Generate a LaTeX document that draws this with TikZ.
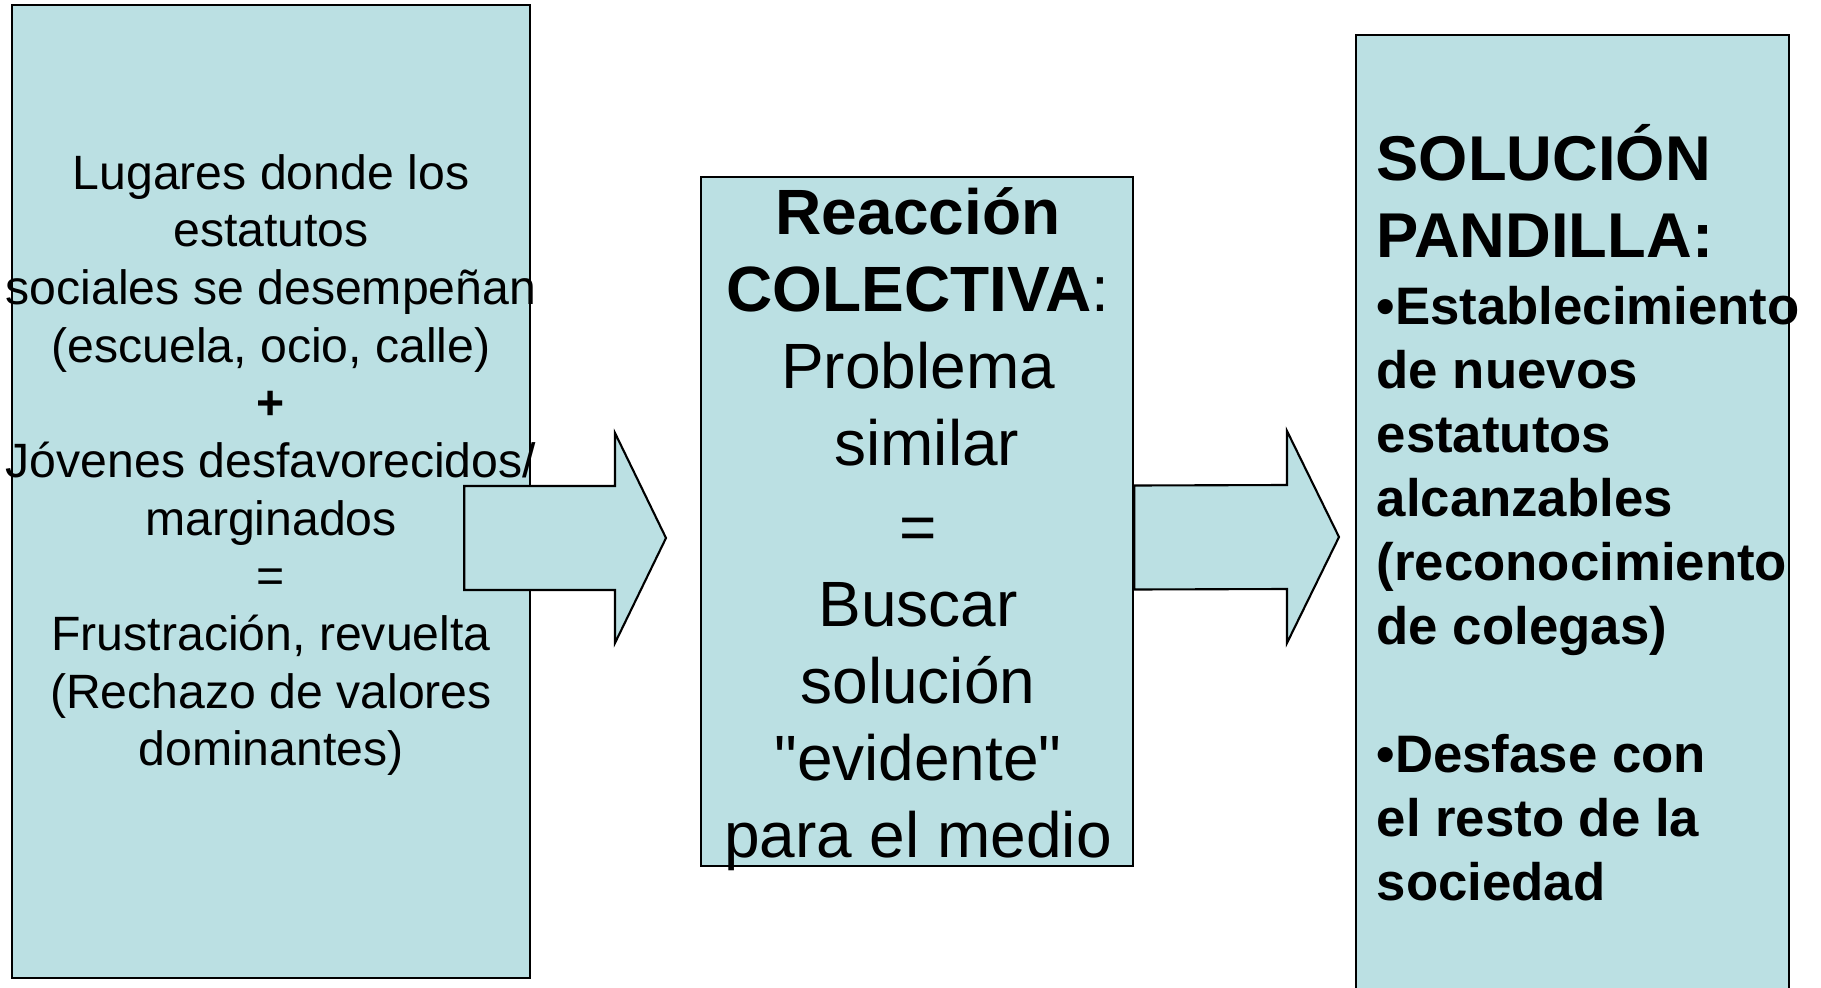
\documentclass[tikz,border=0pt]{standalone}
\usepackage{fontspec}
\setmainfont{Liberation Sans}
\newfontfamily\straightquote{Liberation Sans}
\usetikzlibrary{calc,positioning}
\definecolor{boxfill}{RGB}{187,224,227}
\newcommand{\sq}{{\straightquote\symbol{34}}}
\tikzset{
  panel/.style={draw=black, fill=boxfill, line width=0.6pt, inner sep=0pt},
  blockarrow/.style={draw=black, fill=boxfill, line width=0.6pt, line join=miter},
  lefttext/.style={font=\fontsize{13.7}{16.4}\selectfont, align=center, inner sep=0pt},
  midtext/.style={font=\fontsize{18.2}{21.9}\selectfont, align=center, inner sep=0pt},
  headtext/.style={font=\fontsize{18}{21.9}\selectfont\bfseries, align=left, inner sep=0pt},
  soltext/.style={font=\fontsize{15}{18.2}\selectfont\bfseries, align=left, inner sep=0pt}
}
\begin{document}
\begin{tikzpicture}[x=0.01cm, y=-0.01cm]
\useasboundingbox (0,0) rectangle (1821,988);
% left box
\node[panel, minimum width=5.18cm, minimum height=9.73cm] (lugares) at (271,491.5) {};
\node[lefttext] (lugarestxt) at (271,465) {Lugares donde los\\estatutos\\sociales se desempeñan\\(escuela, ocio, calle)\\\textbf{+}\\Jóvenes desfavorecidos/\\marginados\\=\\Frustración, revuelta\\(Rechazo de valores\\dominantes)};
% first arrow
\coordinate (tail1) at ($(lugares.east)+(-67,46.5)$);
\coordinate (tip1) at (666,538);
\draw[blockarrow] ($(tail1)+(0,-52)$) -- ($(tip1)+(-51,-52)$) -- ($(tip1)+(-51,-105)$) -- (tip1)
  -- ($(tip1)+(-51,105)$) -- ($(tip1)+(-51,52)$) -- ($(tail1)+(0,52)$) -- cycle;
% middle box
\node[panel, minimum width=4.32cm, minimum height=6.89cm] (reaccion) at (917,521.5) {};
\node[midtext] (reacciontxt) at (918,529) {\textbf{Reacción}\\\textbf{COLECTIVA}:\\Problema\\\hspace*{5pt}similar\\[2pt]=\\Buscar\\solución\\\sq evidente\sq\\para el medio};
% second arrow
\coordinate (tail2) at ($(reaccion.east)+(0,16)$);
\coordinate (tip2) at (1339,537);
\draw[blockarrow] ($(tail2)+(0,-52)$) -- ($(tip2)+(-52,-52)$) -- ($(tip2)+(-52,-106)$) -- (tip2)
  -- ($(tip2)+(-52,106)$) -- ($(tip2)+(-52,52)$) -- ($(tail2)+(0,52)$) -- cycle;
% right box
\node[panel, anchor=north west, minimum width=4.33cm, minimum height=9.8cm] (solucion) at (1355,34) {};
\node[headtext, anchor=north west] (solhead) at (1376,124) {SOLUCIÓN\\PANDILLA:};
\node[soltext, below=0.27cm of solhead.south west, anchor=north west] (solbody) {•Establecimiento\\de nuevos\\estatutos\\alcanzables\\(reconocimiento\\de colegas)\\[18.2pt]•Desfase con\\el resto de la\\sociedad};
\end{tikzpicture}
\end{document}
